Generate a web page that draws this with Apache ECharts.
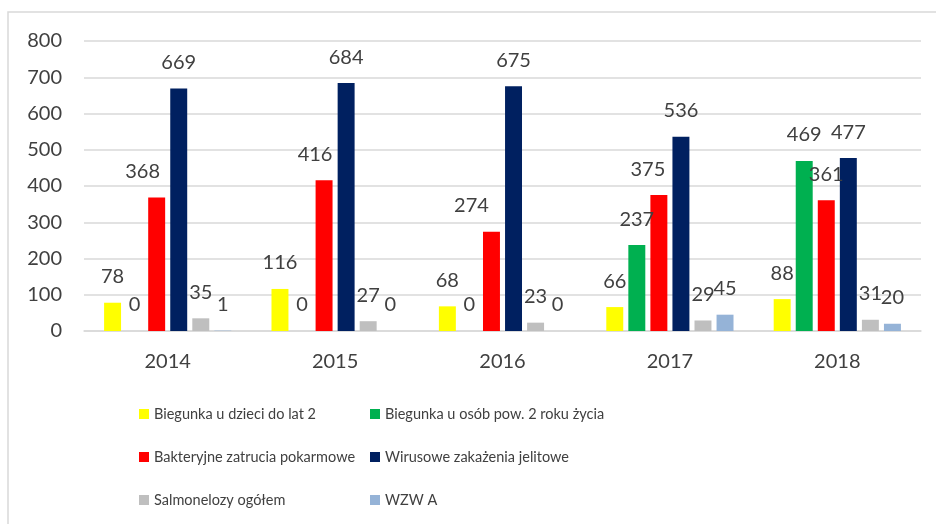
<!DOCTYPE html>
<html>
<head>
<meta charset="utf-8">
<script src="https://cdn.jsdelivr.net/npm/echarts@6/dist/echarts.min.js"></script>
<style>
  html, body { margin: 0; padding: 0; background: #fff; }
  #chart { width: 936px; height: 524px; }
</style>
</head>
<body>
<div id="chart"></div>
<script>
const years = ['2014', '2015', '2016', '2017', '2018']
const seriesNames = [
  'Biegunka u dzieci do lat 2',
  'Biegunka u osób pow. 2 roku życia',
  'Bakteryjne zatrucia pokarmowe',
  'Wirusowe zakażenia jelitowe',
  'Salmonelozy ogółem',
  'WZW A'
]
const biegunkaDzieci = [78, 116, 68, 66, 88]
const biegunkaDorosli = [0, 0, 0, 237, 469]
const bakteryjne = [368, 416, 274, 375, 361]
const wirusowe = [669, 684, 675, 536, 477]
const salmonelozy = [35, 27, 23, 29, 31]
const wzwA = [1, 0, 0, 45, 20]

const colors = ['#ffff00', '#00b050', '#ff0000', '#002060', '#bfbfbf', '#95b3d7']
// manual label nudges seen in the original (red series)
const redLabelShift = [-14, -9, -20, -11, 0]

const values = [biegunkaDzieci, biegunkaDorosli, bakteryjne, wirusowe, salmonelozy, wzwA]
const font = 'Lato'

const chart = echarts.init(document.getElementById('chart'))

const series = values.map((vals, si) => ({
  name: seriesNames[si],
  type: 'bar',
  barGap: '30%',
  barCategoryGap: '24%',
  itemStyle: { color: colors[si] },
  label: {
    show: true,
    position: 'top',
    distance: 16,
    fontFamily: font,
    fontSize: 20,
    color: '#404040'
  },
  data: vals.map((v, i) => si === 2
    ? { value: v, label: { offset: [redLabelShift[i], 0] } }
    : v)
}))

const legendCommon = {
  orient: 'vertical',
  top: 404,
  padding: 0,
  itemWidth: 10,
  itemHeight: 10,
  itemGap: 23,
  icon: 'rect',
  textStyle: { fontFamily: font, fontSize: 14.5, color: '#404040', lineHeight: 20 }
}

chart.setOption({
  animation: false,
  color: colors,
  graphic: [{
    type: 'rect',
    shape: { x: 8, y: 12, width: 960, height: 540 },
    style: { fill: 'none', stroke: '#d9d9d9', lineWidth: 1.5 },
    silent: true
  }],
  legend: [
    Object.assign({ left: 139, data: [seriesNames[0], seriesNames[2], seriesNames[4]] }, legendCommon),
    Object.assign({ left: 370, data: [seriesNames[1], seriesNames[3], seriesNames[5]] }, legendCommon)
  ],
  grid: { left: 84, right: 15, top: 41, bottom: 193 },
  xAxis: {
    type: 'category',
    data: years,
    axisTick: { show: false },
    axisLine: { lineStyle: { color: '#d9d9d9', width: 1.5 } },
    axisLabel: { fontFamily: font, fontSize: 20, color: '#404040', margin: 21 }
  },
  yAxis: {
    type: 'value',
    min: 0,
    max: 800,
    interval: 100,
    axisLine: { show: false },
    axisTick: { show: false },
    splitLine: { lineStyle: { color: '#d9d9d9', width: 1.5 } },
    axisLabel: { fontFamily: font, fontSize: 20, color: '#404040', margin: 22 }
  },
  series: series
})
</script>
</body>
</html>
